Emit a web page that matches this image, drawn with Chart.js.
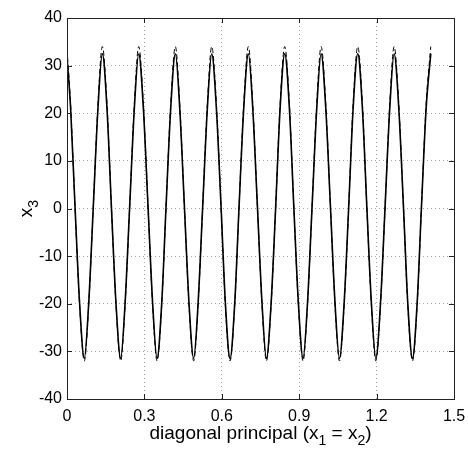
<!DOCTYPE html>
<html>
<head>
<meta charset="utf-8">
<script src="https://cdn.jsdelivr.net/npm/chart.js@4"></script>
<style>
  html, body { margin: 0; padding: 0; background: #fff; }
  #wrap { width: 468px; height: 449px; }
</style>
</head>
<body>
<div id="wrap"><canvas id="chart" width="468" height="449"></canvas></div>
<script>
// positions along the diagonal (peaks, troughs, crossings, and points between)
const xs = [
    0,
    0.014, 0.031, 0.049, 0.067, 0.084, 0.102, 0.120, 0.137,
    0.155, 0.172, 0.190, 0.208, 0.225, 0.243, 0.261, 0.278,
    0.296, 0.314, 0.332, 0.349, 0.367, 0.384, 0.402, 0.420,
    0.437, 0.455, 0.473, 0.491, 0.508, 0.526, 0.544, 0.561,
    0.579, 0.597, 0.614, 0.632, 0.650, 0.667, 0.685, 0.703,
    0.720, 0.738, 0.756, 0.773, 0.791, 0.809, 0.826, 0.844,
    0.862, 0.879, 0.897, 0.915, 0.932, 0.950, 0.968, 0.985,
    1.003, 1.021, 1.039, 1.056, 1.074, 1.092, 1.109, 1.127,
    1.145, 1.162, 1.180, 1.197, 1.215, 1.233, 1.251, 1.268,
    1.286, 1.304, 1.321, 1.339, 1.357, 1.374, 1.392, 1.410
];

// solid curve
const solidX3 = [
    31.8,
    21, 0.5, -20, -31.5, -20, 0.5, 21, 32.5,
    21, 0.5, -20, -31.5, -20, 0.5, 21, 32.5,
    21, 0.5, -20, -31.5, -20, 0.5, 21, 32.5,
    21, 0.5, -20, -31.5, -20, 0.5, 21, 32.5,
    21, 0.5, -20, -31.5, -20, 0.5, 21, 32.5,
    21, 0.5, -20, -31.5, -20, 0.5, 21, 32.5,
    21, 0.5, -20, -31.5, -20, 0.5, 21, 32.5,
    21, 0.5, -20, -31.5, -20, 0.5, 21, 32.5,
    21, 0.5, -20, -31.5, -20, 0.5, 21, 32.5,
    21, 0.5, -20, -31.5, -20, 0.5, 21, 32.5
];

// dashed curve
const dashedX3 = [
    33.5,
    22, 0.5, -20.5, -32, -20.5, 0.5, 22, 34,
    22, 0.5, -20.5, -32, -20.5, 0.5, 22, 34,
    22, 0.5, -20.5, -32, -20.5, 0.5, 22, 34,
    22, 0.5, -20.5, -32, -20.5, 0.5, 22, 34,
    22, 0.5, -20.5, -32, -20.5, 0.5, 22, 34,
    22, 0.5, -20.5, -32, -20.5, 0.5, 22, 34,
    22, 0.5, -20.5, -32, -20.5, 0.5, 22, 34,
    22, 0.5, -20.5, -32, -20.5, 0.5, 22, 34,
    22, 0.5, -20.5, -32, -20.5, 0.5, 22, 34,
    22, 0.5, -20.5, -32, -20.5, 0.5, 22, 34
];

const xMin = 0, xMax = 1.5, xStep = 0.3;
const yMin = -40, yMax = 40, yStep = 10;

const FONT = "'Liberation Sans', Arial, Helvetica, sans-serif";

const toPoints = (ys) => xs.map((x, i) => ({ x: x, y: ys[i] }));

// grid lines only inside the box, the box itself is drawn by the plugin
const innerGrid = (ctx) => {
    const v = ctx.tick ? ctx.tick.value : null;
    const s = ctx.scale;
    if (v === null || Math.abs(v - s.min) < 1e-9 || Math.abs(v - s.max) < 1e-9) return 'rgba(0,0,0,0)';
    return '#a8a8a8';
};

// text with a subscript part, drawn left to right from x
function drawParts(ctx, parts, x, y, size) {
    let cx = x;
    parts.forEach(p => {
        ctx.font = (p.sub ? Math.round(size * 0.72) : size) + 'px ' + FONT;
        ctx.fillText(p.t, cx, p.sub ? y + size * 0.3 : y);
        cx += ctx.measureText(p.t).width;
    });
}
function partsWidth(ctx, parts, size) {
    let w = 0;
    parts.forEach(p => {
        ctx.font = (p.sub ? Math.round(size * 0.72) : size) + 'px ' + FONT;
        w += ctx.measureText(p.t).width;
    });
    return w;
}

const matlabBox = {
    id: 'matlabBox',
    afterDraw(chart) {
        const { ctx, chartArea: a, scales } = chart;
        ctx.save();
        ctx.strokeStyle = '#222';
        ctx.lineWidth = 1;
        ctx.strokeRect(Math.round(a.left) + 0.5, Math.round(a.top) + 0.5,
            Math.round(a.right - a.left), Math.round(a.bottom - a.top));

        // inward ticks on all four sides
        const tl = 5;
        ctx.beginPath();
        scales.x.ticks.forEach(t => {
            const px = Math.round(scales.x.getPixelForValue(t.value)) + 0.5;
            ctx.moveTo(px, a.bottom); ctx.lineTo(px, a.bottom - tl);
            ctx.moveTo(px, a.top); ctx.lineTo(px, a.top + tl);
        });
        scales.y.ticks.forEach(t => {
            const py = Math.round(scales.y.getPixelForValue(t.value)) + 0.5;
            ctx.moveTo(a.left, py); ctx.lineTo(a.left + tl, py);
            ctx.moveTo(a.right, py); ctx.lineTo(a.right - tl, py);
        });
        ctx.stroke();

        // axis titles
        ctx.fillStyle = '#000';
        ctx.textBaseline = 'alphabetic';
        ctx.textAlign = 'left';
        const size = 19;
        const xTitle = [
            { t: 'diagonal principal (x' }, { t: '1', sub: true },
            { t: ' = x' }, { t: '2', sub: true }, { t: ')' }
        ];
        const w = partsWidth(ctx, xTitle, size);
        drawParts(ctx, xTitle, (a.left + a.right) / 2 - w / 2, 439, size);

        const yTitle = [{ t: 'x' }, { t: '3', sub: true }];
        const wy = partsWidth(ctx, yTitle, size);
        ctx.translate(32, (a.top + a.bottom) / 2 + wy / 2);
        ctx.rotate(-Math.PI / 2);
        drawParts(ctx, yTitle, 0, 0, size);
        ctx.restore();
    }
};

new Chart(document.getElementById('chart'), {
    type: 'line',
    data: {
        datasets: [
            {
                label: 'dashed',
                data: toPoints(dashedX3),
                borderColor: '#000',
                borderWidth: 1,
                borderDash: [5, 3],
                pointRadius: 0,
                cubicInterpolationMode: 'monotone',
                fill: false
            },
            {
                label: 'solid',
                data: toPoints(solidX3),
                borderColor: '#000',
                borderWidth: 1.6,
                pointRadius: 0,
                cubicInterpolationMode: 'monotone',
                fill: false
            }
        ]
    },
    options: {
        responsive: false,
        animation: false,
        layout: { padding: { top: 18, right: 14, left: 0, bottom: 0 } },
        plugins: {
            legend: { display: false },
            tooltip: { enabled: false }
        },
        scales: {
            x: {
                type: 'linear',
                min: xMin,
                max: xMax,
                border: { display: false, dash: [1, 3] },
                grid: { color: innerGrid, drawTicks: false, lineWidth: 1 },
                ticks: {
                    stepSize: xStep,
                    color: '#000',
                    font: { family: FONT, size: 16 },
                    padding: 8,
                    maxRotation: 0,
                    callback: (v) => String(Number(v.toFixed(2)))
                },
                afterFit: (s) => { s.height = 50; s.paddingLeft = 0; s.paddingRight = 0; }
            },
            y: {
                type: 'linear',
                min: yMin,
                max: yMax,
                border: { display: false, dash: [1, 3] },
                grid: { color: innerGrid, drawTicks: false, lineWidth: 1 },
                ticks: {
                    stepSize: yStep,
                    color: '#000',
                    font: { family: FONT, size: 16 },
                    padding: 5,
                    callback: (v) => String(v)
                },
                afterFit: (s) => { s.width = 67; s.paddingTop = 0; s.paddingBottom = 0; }
            }
        }
    },
    plugins: [matlabBox]
});
</script>
</body>
</html>
